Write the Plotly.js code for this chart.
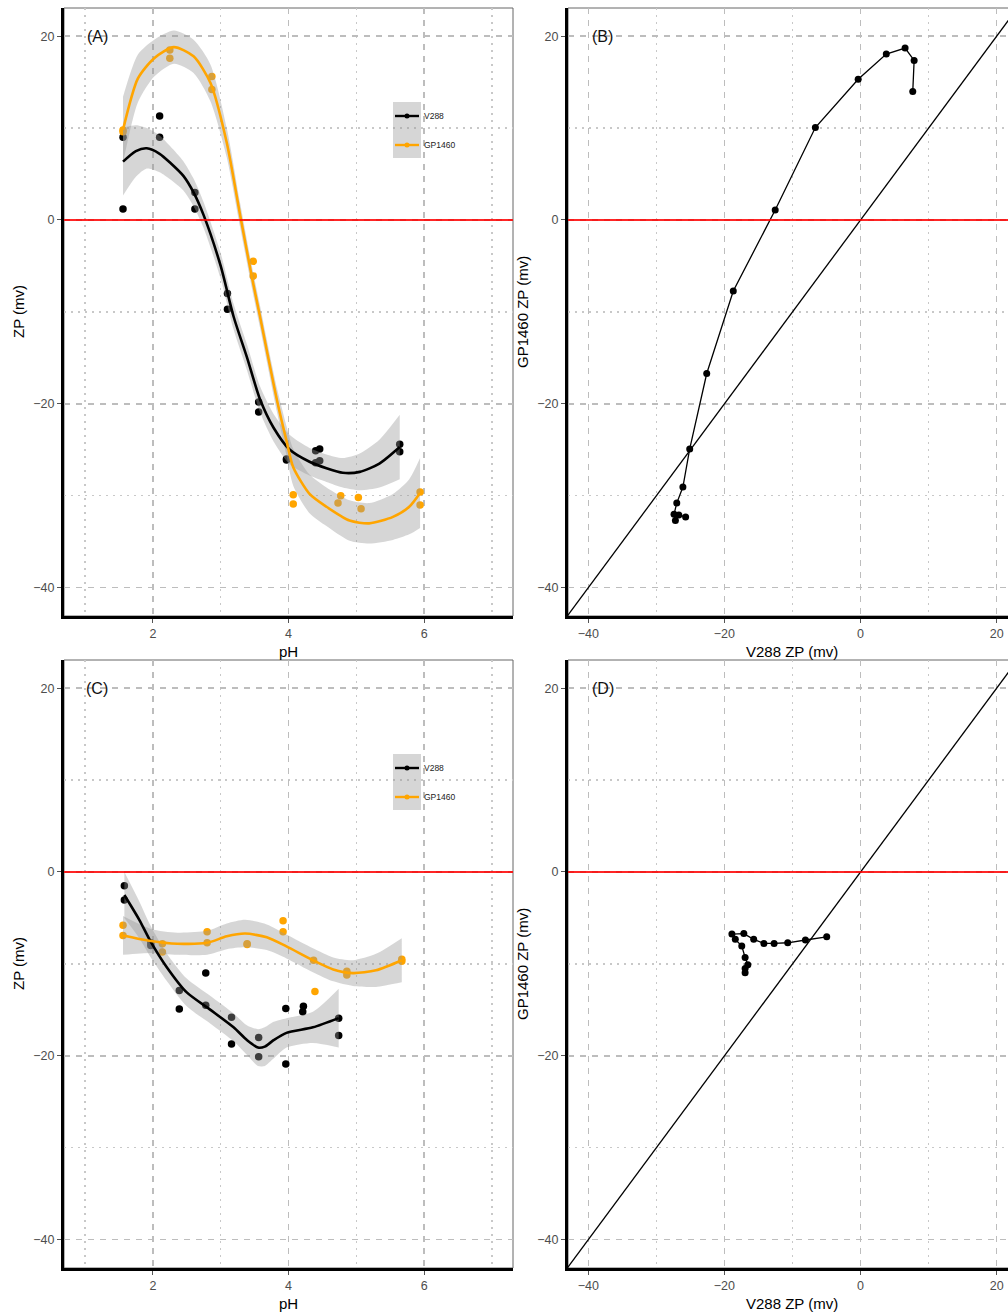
<!DOCTYPE html>
<html>
<head>
<meta charset="utf-8">
<script src="https://cdn.plot.ly/plotly-3.0.1.min.js"></script>
<style>html,body{margin:0;padding:0;background:#fff}#chart{width:1008px;height:1314px}</style>
</head>
<body>
<div id="chart"></div>
<script>
// ---------------- DATA ----------------
// Panel A: ZP vs pH (raw points)
const phA_V288 = [1.56,1.56,2.10,2.10,2.62,2.62,3.10,3.10,3.56,3.56,3.97,3.97,4.40,4.46,4.40,4.46,5.64,5.64];
const zpA_V288 = [9.0,1.2,11.3,9.0,3.0,1.2,-8.0,-9.7,-19.8,-20.9,-26.1,-26.0,-25.1,-24.9,-26.4,-26.2,-24.4,-25.2];
const phA_GP1460 = [1.56,1.56,2.25,2.25,2.87,2.87,3.48,3.48,4.07,4.07,4.77,4.73,5.03,5.07,5.94,5.94];
const zpA_GP1460 = [9.8,9.6,18.5,17.6,15.6,14.2,-4.5,-6.1,-29.9,-30.9,-30.0,-30.8,-30.2,-31.4,-29.6,-31.0];
// Panel A: smooth fits and standard-error half widths
const fitA_V288_ph = [1.56,1.75,1.91,2.10,2.26,2.45,2.60,2.75,3.00,3.19,3.39,3.58,3.78,4.02,4.31,4.56,4.80,5.05,5.34,5.64];
const fitA_V288_zp = [6.35,7.5,7.8,7.2,6.2,4.8,3.0,0.5,-5.0,-10.5,-15.0,-19.5,-22.6,-25.0,-26.3,-27.0,-27.5,-27.4,-26.5,-24.7];
const fitA_V288_se = [3.7,2.8,2.2,2.0,1.8,1.6,1.5,1.4,1.4,1.4,1.4,1.4,1.5,1.6,1.5,1.5,1.6,2.0,2.6,3.5];
const fitA_GP1460_ph = [1.56,1.78,2.02,2.31,2.60,2.85,3.09,3.29,3.46,3.58,3.68,3.83,3.97,4.07,4.31,4.56,4.90,5.19,5.54,5.78,5.94];
const fitA_GP1460_zp = [9.8,15.4,17.6,18.8,17.8,14.9,8.4,0.4,-6.2,-10.5,-14.2,-19.6,-24.0,-26.9,-29.8,-31.2,-32.7,-33.0,-32.3,-31.2,-29.7];
const fitA_GP1460_se = [3.6,2.6,2.0,1.8,1.8,2.0,1.6,1.3,1.2,1.2,1.2,1.3,1.6,2.0,2.1,2.1,2.2,2.2,2.5,3.0,3.8];

// Panel B: GP1460 ZP vs V288 ZP
const zpB_V288   = [7.67,7.87,6.54,3.78,-0.35,-6.64,-12.54,-18.7,-22.6,-25.1,-26.1,-27.0,-27.4,-27.2,-26.7,-25.7];
const zpB_GP1460 = [13.98,17.35,18.7,18.05,15.3,10.06,1.09,-7.73,-16.7,-24.9,-29.05,-30.8,-32.0,-32.7,-32.1,-32.3];

// Panel C: ZP vs pH (raw points)
const phC_V288 = [1.58,1.58,1.97,1.97,2.39,2.39,2.78,2.78,3.16,3.16,3.56,3.56,3.96,3.96,4.22,4.21,4.74,4.74];
const zpC_V288 = [-1.5,-3.05,-7.7,-8.0,-12.9,-14.9,-11.0,-14.5,-15.8,-18.7,-18.0,-20.1,-14.85,-20.9,-14.6,-15.2,-15.9,-17.8];
const phC_GP1460 = [1.56,1.56,2.14,2.14,2.80,2.80,3.39,3.39,3.92,3.92,4.37,4.39,4.86,4.86,5.67,5.67];
const zpC_GP1460 = [-5.8,-6.9,-7.8,-8.7,-6.5,-7.7,-7.8,-7.9,-5.3,-6.5,-9.6,-13.0,-10.8,-11.2,-9.5,-9.7];
const fitC_V288_ph = [1.58,1.80,1.97,2.20,2.50,2.85,3.19,3.39,3.55,3.65,3.78,3.97,4.36,4.74];
const fitC_V288_zp = [-2.5,-5.2,-7.6,-10.3,-13.1,-15.0,-16.9,-18.3,-19.1,-19.0,-18.3,-17.5,-16.9,-15.9];
const fitC_V288_se = [2.5,2.0,1.7,1.5,1.5,1.5,1.5,1.6,2.0,2.1,2.0,1.6,1.7,3.2];
const fitC_GP1460_ph = [1.56,1.97,2.36,2.80,3.09,3.36,3.68,3.97,4.36,4.66,4.95,5.29,5.67];
const fitC_GP1460_zp = [-6.9,-7.5,-7.8,-7.7,-7.0,-6.7,-7.1,-8.1,-9.6,-10.6,-11.0,-10.7,-9.6];
const fitC_GP1460_se = [2.1,1.3,1.2,1.3,1.4,1.5,1.4,1.3,1.3,1.3,1.4,1.8,2.4];

// Panel D: GP1460 ZP vs V288 ZP
const zpD_V288   = [-16.96,-16.96,-16.56,-16.96,-17.45,-18.4,-18.9,-17.15,-15.7,-14.2,-12.7,-10.7,-8.1,-4.97];
const zpD_GP1460 = [-10.97,-10.5,-10.1,-9.3,-8.06,-7.33,-6.75,-6.7,-7.33,-7.77,-7.77,-7.7,-7.4,-7.05];

// reference lines and labels
const zeroLine = 0;
const identityLine = [-45, 25];
const seriesNames = ["V288", "GP1460"];
const panelLabels = ["(A)", "(B)", "(C)", "(D)"];
const xTitles = ["pH", "V288 ZP (mv)"];
const yTitles = ["ZP (mv)", "GP1460 ZP (mv)"];

// ---------------- STYLE / LAYOUT ----------------
const W = 1008, H = 1314;
const BLACK = "#000000", ORANGE = "#FFA500", RIBBON = "rgba(153,153,153,0.4)";
const FONT = "Liberation Sans, Arial, Helvetica, sans-serif";
const px = v => v / W, py = v => 1 - v / H;

function ribbon(xs, ys, se, xa, ya) {
  const up = ys.map((v, i) => v + se[i]);
  const lo = ys.map((v, i) => v - se[i]);
  return [
    {x: xs, y: lo, xaxis: xa, yaxis: ya, mode: "lines", type: "scatter",
      line: {width: 0, color: "rgba(0,0,0,0)", shape: "spline", smoothing: 0.7}, hoverinfo: "skip", showlegend: false},
    {x: xs, y: up, xaxis: xa, yaxis: ya, mode: "lines", type: "scatter", fill: "tonexty", fillcolor: RIBBON,
      line: {width: 0, color: "rgba(0,0,0,0)", shape: "spline", smoothing: 0.7}, hoverinfo: "skip", showlegend: false}
  ];
}
function pts(xs, ys, color, xa, ya) {
  return {x: xs, y: ys, xaxis: xa, yaxis: ya, mode: "markers", type: "scatter",
    marker: {color: color, size: 7.5}, showlegend: false};
}
function fit(xs, ys, color, xa, ya) {
  return {x: xs, y: ys, xaxis: xa, yaxis: ya, mode: "lines", type: "scatter",
    line: {color: color, width: 2.6, shape: "spline", smoothing: 0.7}, showlegend: false};
}
function path(xs, ys, xa, ya) {
  return {x: xs, y: ys, xaxis: xa, yaxis: ya, mode: "lines+markers", type: "scatter",
    line: {color: BLACK, width: 1.3}, marker: {color: BLACK, size: 7}, showlegend: false};
}
function diag(xa, ya) {
  return {x: identityLine, y: identityLine, xaxis: xa, yaxis: ya, mode: "lines", type: "scatter",
    line: {color: BLACK, width: 1.3}, hoverinfo: "skip", showlegend: false};
}

const traces = [].concat(
  // Panel A
  pts(phA_V288, zpA_V288, BLACK, "x", "y"),
  pts(phA_GP1460, zpA_GP1460, ORANGE, "x", "y"),
  ribbon(fitA_V288_ph, fitA_V288_zp, fitA_V288_se, "x", "y"),
  ribbon(fitA_GP1460_ph, fitA_GP1460_zp, fitA_GP1460_se, "x", "y"),
  fit(fitA_V288_ph, fitA_V288_zp, BLACK, "x", "y"),
  fit(fitA_GP1460_ph, fitA_GP1460_zp, ORANGE, "x", "y"),
  // Panel B
  diag("x2", "y2"),
  path(zpB_V288, zpB_GP1460, "x2", "y2"),
  // Panel C
  pts(phC_V288, zpC_V288, BLACK, "x3", "y3"),
  pts(phC_GP1460, zpC_GP1460, ORANGE, "x3", "y3"),
  ribbon(fitC_V288_ph, fitC_V288_zp, fitC_V288_se, "x3", "y3"),
  ribbon(fitC_GP1460_ph, fitC_GP1460_zp, fitC_GP1460_se, "x3", "y3"),
  fit(fitC_V288_ph, fitC_V288_zp, BLACK, "x3", "y3"),
  fit(fitC_GP1460_ph, fitC_GP1460_zp, ORANGE, "x3", "y3"),
  // Panel D
  diag("x4", "y4"),
  path(zpD_V288, zpD_GP1460, "x4", "y4")
);

const phRange = [0.69, 7.31];
const zpRange = [-42.98, 21.66];
const yRange = [-43.08, 23.06];

function axis(domain, range, dtick, minorDtick, anchor) {
  return {
    domain: domain, range: range, anchor: anchor, autorange: false,
    tick0: 0, dtick: dtick, ticks: "outside", ticklen: 4, tickwidth: 1, tickcolor: "#555",
    tickfont: {family: FONT, size: 12.5, color: "#4d4d4d"},
    showline: true, linecolor: BLACK, linewidth: 3, mirror: false,
    showgrid: true, gridcolor: "#bdbdbd", gridwidth: 1.4, griddash: "6px,6px",
    minor: {dtick: minorDtick, tick0: 0, showgrid: true, gridcolor: "#c8c8c8", gridwidth: 1.3, griddash: "2px,5px", ticks: ""},
    zeroline: false, fixedrange: true
  };
}

const xA = [px(64), px(513)], xB = [px(568), 1];
const yA = [py(616), py(8)], yC = [py(1268), py(660)];

const layout = {
  width: W, height: H, margin: {l: 0, r: 0, t: 0, b: 0},
  paper_bgcolor: "#fff", plot_bgcolor: "#fff", showlegend: false,
  font: {family: FONT},
  xaxis: axis(xA, phRange, 2, 1, "y"),
  yaxis: axis(yA, yRange, 20, 10, "x"),
  xaxis2: axis(xB, zpRange, 20, 10, "y2"),
  yaxis2: axis(yA, yRange, 20, 10, "x2"),
  xaxis3: axis(xA, phRange, 2, 1, "y3"),
  yaxis3: axis(yC, yRange, 20, 10, "x3"),
  xaxis4: axis(xB, zpRange, 20, 10, "y4"),
  yaxis4: axis(yC, yRange, 20, 10, "x4"),
  shapes: [],
  annotations: []
};

const panels = [
  {xa: "x", ya: "y", lab: panelLabels[0], labX: 0.0735, xt: xTitles[0], yt: yTitles[0], top: 8, bot: 616, left: 64, right: 513, legend: true},
  {xa: "x2", ya: "y2", lab: panelLabels[1], labX: 0.0795, xt: xTitles[1], yt: yTitles[1], top: 8, bot: 616, left: 568, right: 1016, legend: false},
  {xa: "x3", ya: "y3", lab: panelLabels[2], labX: 0.0735, xt: xTitles[0], yt: yTitles[0], top: 660, bot: 1268, left: 64, right: 513, legend: true},
  {xa: "x4", ya: "y4", lab: panelLabels[3], labX: 0.0795, xt: xTitles[1], yt: yTitles[1], top: 660, bot: 1268, left: 568, right: 1016, legend: false}
];

panels.forEach(p => {
  // thin panel border (top / right)
  layout.shapes.push({type: "rect", xref: "paper", yref: "paper", x0: px(p.left), x1: px(Math.min(p.right, 1010)), y0: py(p.bot), y1: py(p.top),
    line: {color: "#666", width: 1}, layer: "below"});
  // red zero line
  layout.shapes.push({type: "line", xref: p.xa + " domain", yref: p.ya, x0: 0, x1: 1, y0: zeroLine, y1: zeroLine,
    line: {color: "rgba(255,0,0,0.85)", width: 2}, layer: "above"});
  // panel label
  layout.annotations.push({text: p.lab, xref: p.xa + " domain", yref: p.ya, x: p.labX, y: 20,
    xanchor: "center", yanchor: "middle", showarrow: false, font: {family: FONT, size: 16, color: "#111"}});
  // axis titles
  const cx = (p.left + p.right) / 2, cy = (p.top + p.bot) / 2;
  layout.annotations.push({text: p.xt, xref: "paper", yref: "paper", x: px(cx), y: py(p.bot + 35),
    xanchor: "center", yanchor: "middle", showarrow: false, font: {family: FONT, size: 15, color: "#000"}});
  layout.annotations.push({text: p.yt, xref: "paper", yref: "paper", x: px(p.left - 46), y: py(cy),
    xanchor: "center", yanchor: "middle", textangle: -90, showarrow: false, font: {family: FONT, size: 15, color: "#000"}});
  // manual legend
  if (p.legend) {
    const lt = p.top + 94;
    layout.shapes.push({type: "rect", xref: "paper", yref: "paper", x0: px(393), x1: px(421), y0: py(lt + 56), y1: py(lt),
      fillcolor: "rgba(153,153,153,0.4)", line: {width: 0}, layer: "above"});
    [BLACK, ORANGE].forEach((c, i) => {
      const yy = lt + 14 + i * 29;
      layout.shapes.push({type: "line", xref: "paper", yref: "paper", x0: px(395), x1: px(419), y0: py(yy), y1: py(yy),
        line: {color: c, width: 2.4}, layer: "above"});
      layout.shapes.push({type: "circle", xref: "paper", yref: "paper", x0: px(404.5), x1: px(409.5), y0: py(yy + 2.5), y1: py(yy - 2.5),
        fillcolor: c, line: {width: 0}, layer: "above"});
      layout.annotations.push({text: seriesNames[i], xref: "paper", yref: "paper", x: px(421.5), y: py(yy),
        xanchor: "left", yanchor: "middle", showarrow: false, font: {family: FONT, size: 8.5, color: "#222"}});
    });
  }
});

Plotly.newPlot("chart", traces, layout, {staticPlot: true, displayModeBar: false});
</script>
</body>
</html>
